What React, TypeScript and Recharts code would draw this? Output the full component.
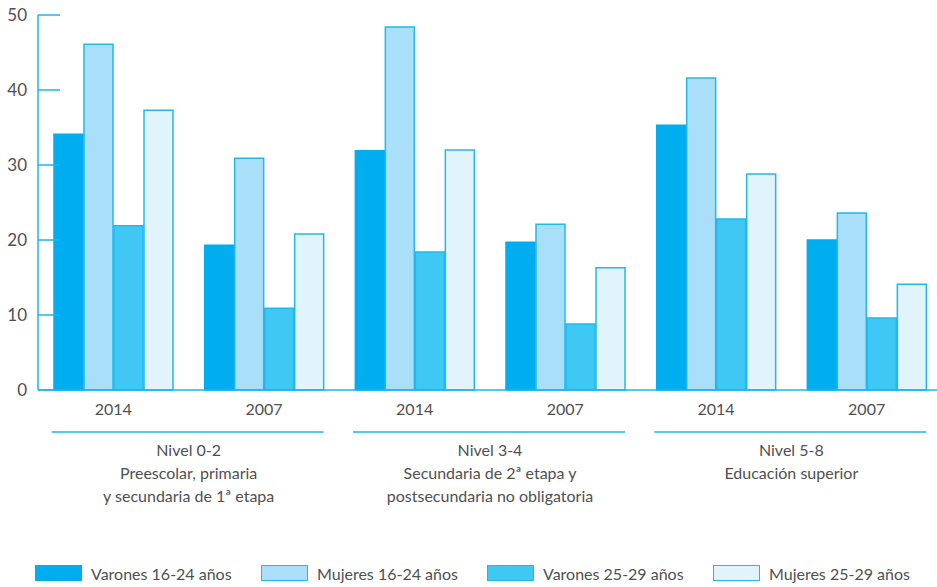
import { BarChart, Bar, XAxis, YAxis, Legend } from 'recharts';

// years per category, groups of two share a "nivel"
const years = ['2014', '2007', '2014', '2007', '2014', '2007'];
const niveles = ['Nivel 0-2', 'Nivel 0-2', 'Nivel 3-4', 'Nivel 3-4', 'Nivel 5-8', 'Nivel 5-8'];
const varones1624 = [34.1, 19.3, 31.9, 19.7, 35.3, 20.0];
const mujeres1624 = [46.1, 30.9, 48.4, 22.1, 41.6, 23.6];
const varones2529 = [21.9, 10.9, 18.4, 8.8, 22.8, 9.6];
const mujeres2529 = [37.3, 20.8, 32.0, 16.3, 28.8, 14.1];

const nivelSubtitles: Record<string, string[]> = {
    'Nivel 0-2': ['Preescolar, primaria', 'y secundaria de 1ª etapa'],
    'Nivel 3-4': ['Secundaria de 2ª etapa y', 'postsecundaria no obligatoria'],
    'Nivel 5-8': ['Educación superior'],
};
const yTicks = [0, 10, 20, 30, 40, 50];

const data = years.map((year, i) => ({
    year,
    nivel: niveles[i],
    v1624: varones1624[i],
    m1624: mujeres1624[i],
    v2529: varones2529[i],
    m2529: mujeres2529[i],
}));

const series = [
    { key: 'v1624', name: 'Varones 16-24 años', fill: '#00AEEF', stroke: '#00AEEF' },
    { key: 'm1624', name: 'Mujeres 16-24 años', fill: '#AADFF9', stroke: '#22B8EE' },
    { key: 'v2529', name: 'Varones 25-29 años', fill: '#40C8F4', stroke: '#22B8EE' },
    { key: 'm2529', name: 'Mujeres 25-29 años', fill: '#E1F4FB', stroke: '#22B8EE' },
];

const FONT = 'Lato, "Open Sans", sans-serif';
const TEXT = '#505050';
const CYAN = '#1CB5EC';

const YTick = (props: any) => {
    const { x, y, payload } = props;
    return (
        <g>
            <line x1={x} x2={x + 22} y1={y} y2={y} stroke={CYAN} strokeWidth={1.5} />
            <text x={x - 11} y={y} dy={6} textAnchor="end" fontSize={17} fill={TEXT} fontFamily={FONT}>
                {payload.value}
            </text>
        </g>
    );
};

const YearTick = (props: any) => {
    const { x, y, payload } = props;
    return (
        <text x={x} y={y + 25} textAnchor="middle" fontSize={16} fill={TEXT} fontFamily={FONT}>
            {payload.value}
        </text>
    );
};

const GroupTick = (props: any) => {
    const { x, y, payload } = props;
    const lines = [payload.value, ...(nivelSubtitles[payload.value] || [])];
    return (
        <g>
            <line x1={x - 137} x2={x + 135} y1={y + 12} y2={y + 12} stroke={CYAN} strokeWidth={1.5} />
            {lines.map((t, i) => (
                <text key={i} x={x} y={y + 36 + i * 23} textAnchor="middle" fontSize={16} fill={TEXT} fontFamily={FONT}>
                    {t}
                </text>
            ))}
        </g>
    );
};

const LegendContent = () => (
    <div style={{ display: 'flex', height: 22, alignItems: 'center', paddingLeft: 35, fontFamily: FONT, fontSize: 16, color: TEXT }}>
        {series.map((s) => (
            <div key={s.key} style={{ display: 'flex', alignItems: 'center', width: 226 }}>
                <span
                    style={{
                        display: 'inline-block',
                        width: 45,
                        height: 14,
                        background: s.fill,
                        border: `1px solid ${s.stroke}`,
                        marginRight: 9,
                    }}
                />
                <span>{s.name}</span>
            </div>
        ))}
    </div>
);

export default function App() {
    return (
        <div style={{ position: 'absolute', left: 0, top: 0, width: 937, height: 587, overflow: 'hidden', background: '#fff' }}>
            <BarChart
                width={942}
                height={587}
                data={data}
                margin={{ top: 15, right: 0, bottom: 3, left: 0 }}
                barCategoryGap={16}
                barGap={1}
            >
                <XAxis
                    dataKey="year"
                    height={30}
                    tickLine={false}
                    tickSize={0}
                    tickMargin={0}
                    axisLine={{ stroke: CYAN, strokeWidth: 1.5 }}
                    tick={<YearTick />}
                    interval={0}
                />
                <XAxis
                    xAxisId="group"
                    dataKey="nivel"
                    allowDuplicatedCategory={false}
                    height={142}
                    tickLine={false}
                    tickSize={0}
                    tickMargin={0}
                    axisLine={false}
                    tick={<GroupTick />}
                    interval={0}
                />
                <YAxis
                    width={38}
                    domain={[0, 50]}
                    ticks={yTicks}
                    interval={0}
                    tickLine={false}
                    tickSize={0}
                    tickMargin={0}
                    axisLine={{ stroke: CYAN, strokeWidth: 1.5 }}
                    tick={<YTick />}
                />
                <Legend verticalAlign="bottom" align="left" content={<LegendContent />} />
                {series.map((s) => (
                    <Bar
                        key={s.key}
                        dataKey={s.key}
                        name={s.name}
                        fill={s.fill}
                        stroke={s.stroke}
                        strokeWidth={1.5}
                        isAnimationActive={false}
                    />
                ))}
            </BarChart>
        </div>
    );
}
